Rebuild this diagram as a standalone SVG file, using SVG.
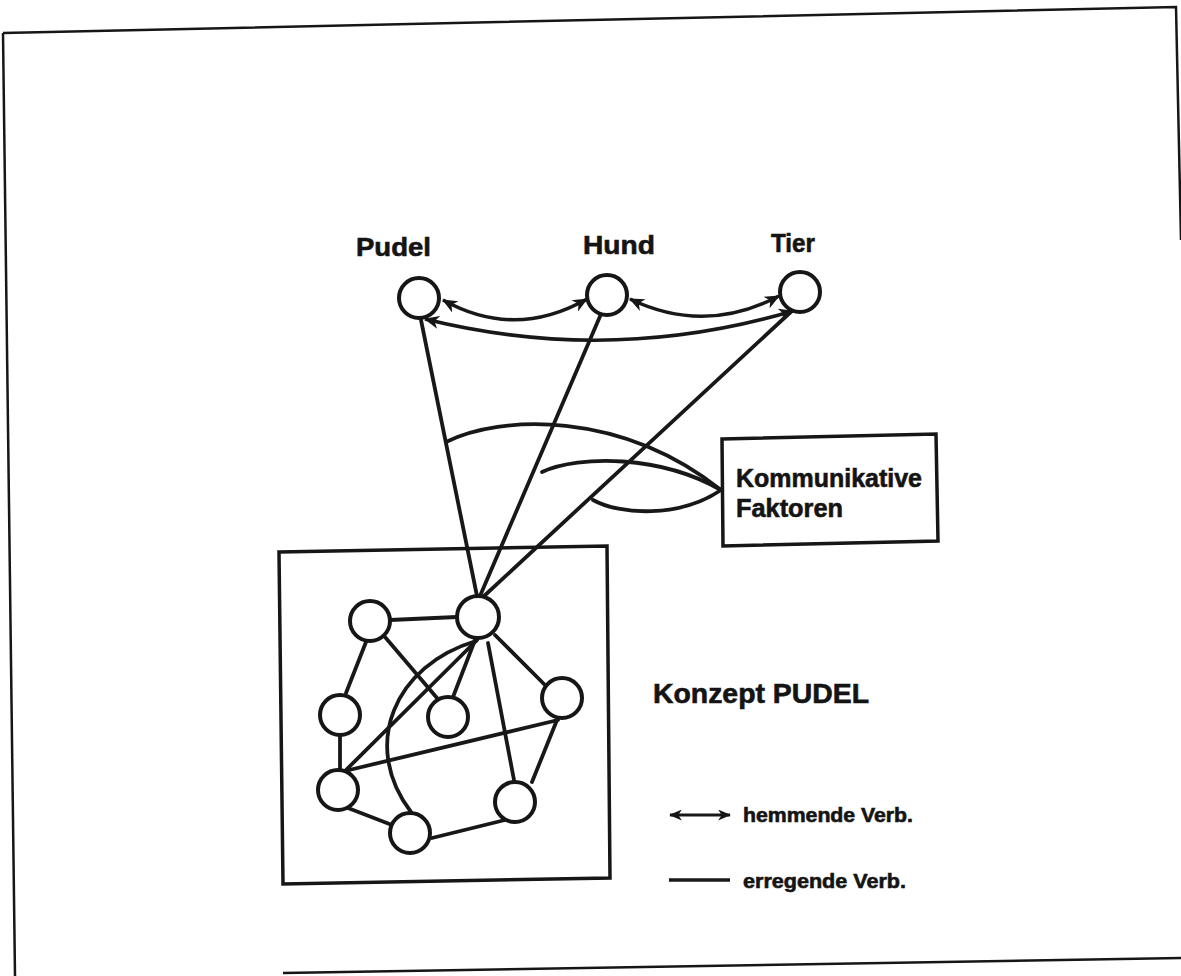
<svg xmlns="http://www.w3.org/2000/svg" width="1181" height="976" viewBox="0 0 1181 976">
<style>
.t{font-family:"Liberation Sans",Arial,sans-serif;font-weight:bold;fill:#141414;stroke:#141414;stroke-width:0.6}
.c{fill:#fff;stroke:#161616;stroke-width:4}
.e{fill:none;stroke:#181818;stroke-width:3.8;stroke-linecap:round}
.h{fill:none;stroke:#181818;stroke-width:3.5;marker-start:url(#ah);marker-end:url(#ah)}
.b{fill:none;stroke:#161616;stroke-width:3.5}
.f{fill:none;stroke:#161616;stroke-width:2.5}
</style>
<defs>
<marker id="ah" viewBox="0 0 14 12" refX="13" refY="6" markerWidth="17" markerHeight="13" markerUnits="userSpaceOnUse" orient="auto-start-reverse">
<path d="M0,0 L14,6 L0,12 L4,6 z" fill="#161616"/>
</marker>
<marker id="ahs" viewBox="0 0 14 12" refX="13" refY="6" markerWidth="13" markerHeight="11" markerUnits="userSpaceOnUse" orient="auto-start-reverse">
<path d="M0,0 L14,6 L0,12 L4,6 z" fill="#161616"/>
</marker>
</defs>
<rect width="1181" height="976" fill="#fff"/>
<g id="frame">
<path class="f" d="M3,33 L1176,7 L1181,240"/>
<path class="f" d="M3,33 L15,976"/>
<path class="f" d="M283,973 L1181,958"/>
</g>
<g id="connectors">
<path class="h" d="M443,300 Q515,340 587,299"/>
<path class="h" d="M630,299 Q705,335 779,296"/>
<path class="h" d="M793,311 Q610,365 425,319"/>
<path class="e" d="M421,320 L477,596"/>
<path class="e" d="M601,314 L480,596"/>
<path class="e" d="M794,309 L483,597"/>
<path class="e" d="M446,442 C500,415 620,410 721,490"/>
<path class="e" d="M542,472 C580,455 660,455 721,490"/>
<path class="e" d="M593,500 C620,515 680,518 721,490"/>
<path class="e" d="M390,620 L457,617"/>
<path class="e" d="M366,642 L346,693"/>
<path class="e" d="M385,637 L437,698"/>
<path class="e" d="M340,736 L340,770"/>
<path class="e" d="M348,808 L392,825"/>
<path class="e" d="M432,838 L505,820"/>
<path class="e" d="M532,782 L557,720"/>
<path class="e" d="M545,685 L495,635"/>
<path class="e" d="M488,643 L514,780"/>
<path class="e" d="M475,640 L453,697"/>
<path class="e" d="M477,640 L345,771"/>
<path class="e" d="M345,771 L558,720"/>
<path class="e" d="M476,641 C395,665 360,745 411,812"/>
</g>
<g id="pudel"><circle class="c" cx="419" cy="298" r="20"/><text class="t" x="356" y="256" font-size="26" textLength="75" lengthAdjust="spacingAndGlyphs">Pudel</text></g>
<g id="hund"><circle class="c" cx="607" cy="295" r="20"/><text class="t" x="583" y="254" font-size="26" textLength="72" lengthAdjust="spacingAndGlyphs">Hund</text></g>
<g id="tier"><circle class="c" cx="800" cy="292" r="20"/><text class="t" x="771" y="252" font-size="26" textLength="44" lengthAdjust="spacingAndGlyphs">Tier</text></g>
<g id="kommunikative-faktoren">
<path class="b" d="M722,439 L936,434 L938,541 L723,546 Z"/>
<text class="t" x="736" y="487" font-size="25" textLength="186" lengthAdjust="spacingAndGlyphs">Kommunikative</text>
<text class="t" x="736" y="517" font-size="25" textLength="107" lengthAdjust="spacingAndGlyphs">Faktoren</text>
</g>
<g id="konzept-pudel">
<path class="b" d="M279,552 L607,546 L610,878 L283,884 Z"/>
<text class="t" x="653" y="703" font-size="27" textLength="216" lengthAdjust="spacingAndGlyphs">Konzept PUDEL</text>
<g id="n1"><circle class="c" cx="370" cy="621" r="20"/></g>
<g id="n2"><circle class="c" cx="478" cy="617" r="21"/></g>
<g id="n3"><circle class="c" cx="340" cy="715" r="20"/></g>
<g id="n4"><circle class="c" cx="448" cy="717" r="20"/></g>
<g id="n5"><circle class="c" cx="562" cy="698" r="20"/></g>
<g id="n6"><circle class="c" cx="338" cy="790" r="20"/></g>
<g id="n7"><circle class="c" cx="410" cy="833" r="20"/></g>
<g id="n8"><circle class="c" cx="515" cy="802" r="20"/></g>
</g>
<g id="legend">
<path d="M670,815 L730,815" fill="none" stroke="#181818" stroke-width="3" marker-start="url(#ahs)" marker-end="url(#ahs)"/>
<text class="t" x="743" y="822" font-size="20" textLength="170" lengthAdjust="spacingAndGlyphs">hemmende Verb.</text>
<path d="M669,880 L730,880" fill="none" stroke="#181818" stroke-width="3.5"/>
<text class="t" x="743" y="888" font-size="20" textLength="163" lengthAdjust="spacingAndGlyphs">erregende Verb.</text>
</g>
</svg>
